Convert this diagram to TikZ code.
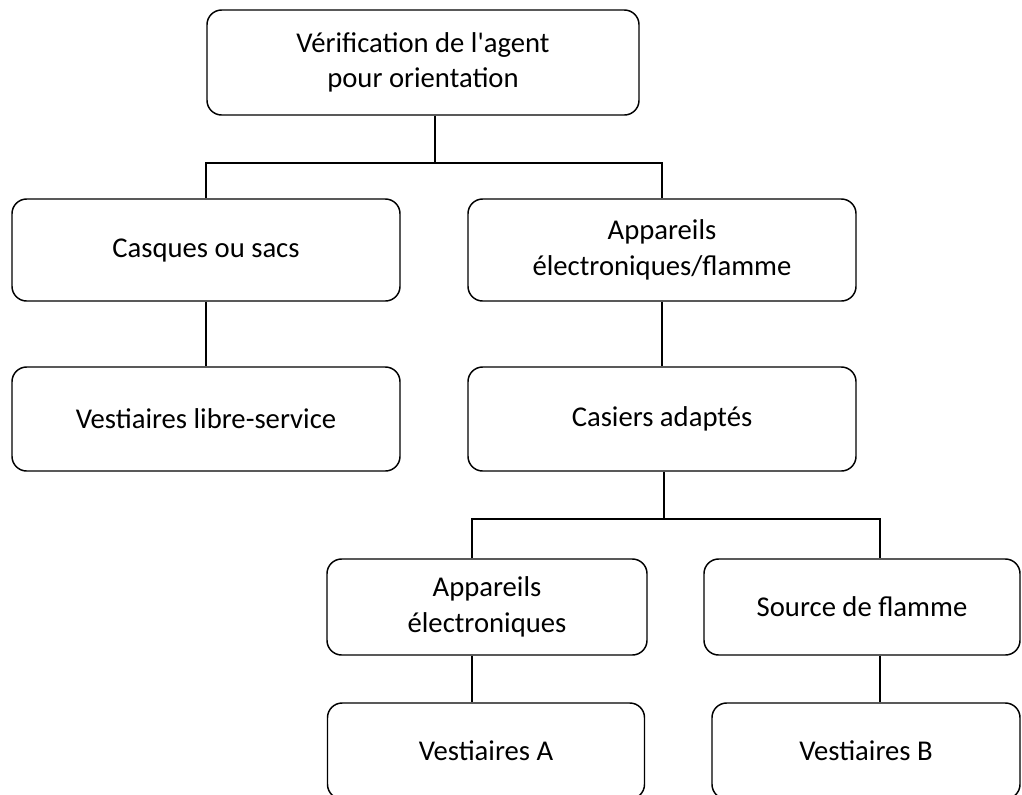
\documentclass[tikz,border=0pt]{standalone}
\usepackage{fontspec}
\setmainfont{Carlito}
\tikzset{
  box/.style={draw,rounded corners=11pt,line width=1.1pt,align=center,
    inner sep=0pt,font=\fontsize{21.5}{26.5}\selectfont},
  wd/.style={minimum width=#1*0.75pt},
  ht/.style={minimum height=#1*0.75pt},
  link/.style={line width=1.1pt}
}
\begin{document}
\begin{tikzpicture}[x=0.75pt,y=-0.75pt]
    \useasboundingbox (0,0) rectangle (1022,794);
    \node[box,wd=432,ht=105] (n1) at (423,62.5) {Vérification de l\textquotesingle agent\\pour orientation};
    \node[box,wd=388,ht=102] (n2) at (206,250) {Casques ou sacs};
    \node[box,wd=388,ht=102] (n3) at (662,250) {Appareils\\électroniques/flamme};
    \node[box,wd=388,ht=104] (n4) at (206,419) {Vestiaires libre-service};
    \node[box,wd=388,ht=104] (n5) at (662,419) {Casiers adaptés};
    \node[box,wd=320,ht=96] (n6) at (487,607) {Appareils\\électroniques};
    \node[box,wd=316,ht=96] (n7) at (862,607) {Source de flamme};
    \node[box,wd=317,ht=96] (n8) at (486,751) {Vestiaires A};
    \node[box,wd=308,ht=96] (n9) at (866,751) {Vestiaires B};
    \coordinate (f1) at (435,163);
    \coordinate (f2) at (664,519);
    \coordinate (c6) at (472,519);
    \coordinate (c7) at (880,519);
    \draw[link] (f1 |- n1.south) -- (f1);
    \draw[link] (n2.north) |- (f1) -| (n3.north);
    \draw[link] (n2) -- (n4);
    \draw[link] (n3) -- (n5);
    \draw[link] (f2 |- n5.south) -- (f2);
    \draw[link] (c6 |- n6.north) -- (c6) -- (c7) -- (c7 |- n7.north);
    \draw[link] (c6 |- n6.south) -- (c6 |- n8.north);
    \draw[link] (c7 |- n7.south) -- (c7 |- n9.north);
\end{tikzpicture}
\end{document}
